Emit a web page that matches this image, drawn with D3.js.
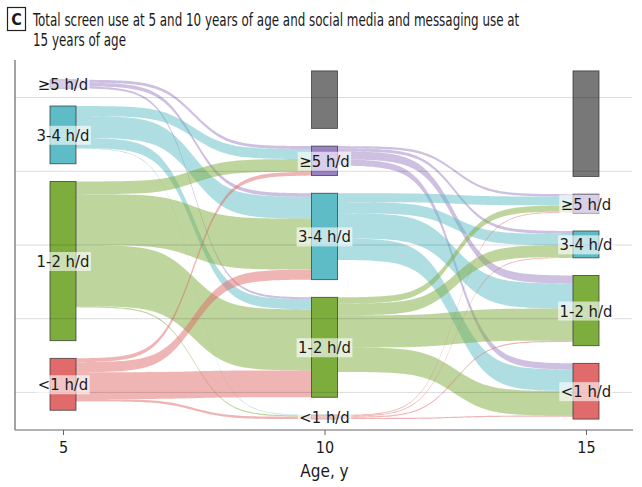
<!DOCTYPE html>
<html>
<head>
<meta charset="utf-8">
<script src="https://cdn.jsdelivr.net/npm/d3@7"></script>
<style>
  body { margin: 0; background: #fff; }
  svg { display: block; }
  text { font-family: "DejaVu Sans Condensed", "Liberation Sans Narrow", sans-serif; fill: #1a1a1a; }
</style>
</head>
<body>
<svg id="chart" width="642" height="487"></svg>
<script>
// screen use at age 5 / 10, social media at 15 -- counts per group
const ages = [5, 10, 15];
const categories = ["Missing", "≥5 h/d", "3-4 h/d", "1-2 h/d", "<1 h/d"];

// rows = group at age 5, cols = group at age 10 (same order as categories)
const flows5to10 = [
  [0, 0, 0, 0, 0],
  [0, 10, 12, 7, 0],
  [52, 34, 74, 34, 2],
  [113, 43, 173, 207, 4],
  [30, 13, 34, 91, 8]
];

// rows = group at age 10, cols = group at age 15
const flows10to15 = [
  [171, 3, 0, 13, 8],
  [34, 8, 10, 27, 21],
  [67, 30, 38, 85, 73],
  [86, 21, 40, 109, 83],
  [0, 3, 3, 4, 4]
];

const gridValues = [-500, -250, 0, 250, 500];

const colors = ["#787878", "#9b82c2", "#5dbcc6", "#7dad3d", "#e06b6a"];

const svg = d3.select("#chart");
const boxW = 26;
const gap = 60; // space between strata, in count units
const smooth = 7;

const x = d3.scaleLinear().domain([5, 15]).range([63, 586]);
const y = d3.scaleLinear().domain([-627.5, 627.5]).range([430, 60]);

// strata sizes for each age
const sizes = [
  flows5to10.map((r) => d3.sum(r)),
  categories.map((_c, j) => d3.sum(flows5to10, (r) => r[j])),
  categories.map((_c, j) => d3.sum(flows10to15, (r) => r[j]))
];

// stack non-empty strata, centred on 0
function layout(sz) {
  const used = sz.map((v, i) => ({ i, v })).filter((d) => d.v > 0);
  const total = d3.sum(used, (d) => d.v) + gap * (used.length - 1);
  let cur = total / 2;
  const out = [];
  used.forEach((d) => {
    out[d.i] = { cat: d.i, size: d.v, top: cur, bottom: cur - d.v };
    cur = cur - d.v - gap;
  });
  return out;
}
const strata = sizes.map(layout);

// flows
function sig(t) {
  const f = (u) => 1 / (1 + Math.exp(-smooth * (2 * u - 1)));
  return (f(t) - f(0)) / (f(1) - f(0));
}
const area = d3.area()
  .x((d) => d.x)
  .y0((d) => d.y0)
  .y1((d) => d.y1);

const order = [1, 2, 3, 4, 0]; // missing goes last
const flowData = [];
[flows5to10, flows10to15].forEach((m, a) => {
  const from = strata[a];
  const to = strata[a + 1];
  const outPos = {};
  const inPos = {};
  from.forEach((s) => {
    if (!s) return;
    let cur = s.top;
    order.forEach((j) => {
      const v = m[s.cat][j];
      if (v > 0) { outPos[s.cat + "-" + j] = [cur, cur - v]; cur -= v; }
    });
  });
  to.forEach((s) => {
    if (!s) return;
    let cur = s.top;
    order.forEach((i) => {
      const v = m[i][s.cat];
      if (v > 0) { inPos[i + "-" + s.cat] = [cur, cur - v]; cur -= v; }
    });
  });
  m.forEach((row, i) => {
    row.forEach((v, j) => {
      if (v <= 0 || i === 0 || j === 0) return;
      const p0 = outPos[i + "-" + j];
      const p1 = inPos[i + "-" + j];
      const x0 = x(ages[a]) + boxW / 2;
      const x1 = x(ages[a + 1]) - boxW / 2;
      const pts = d3.range(81).map((k) => {
        const t = k / 80;
        const s = sig(t);
        return {
          x: x0 + t * (x1 - x0),
          y0: y(p0[0] + s * (p1[0] - p0[0])),
          y1: y(p0[1] + s * (p1[1] - p0[1]))
        };
      });
      flowData.push({ src: i, pts });
    });
  });
});

svg.append("g")
  .selectAll("path")
  .data(flowData)
  .join("path")
  .attr("d", (d) => area(d.pts))
  .attr("fill", (d) => colors[d.src])
  .attr("fill-opacity", 0.5);

// strata boxes
const boxes = [];
strata.forEach((col, a) => col.forEach((s) => { if (s) boxes.push({ a, ...s }); }));

svg.append("g")
  .selectAll("rect")
  .data(boxes)
  .join("rect")
  .attr("x", (d) => x(ages[d.a]) - boxW / 2)
  .attr("y", (d) => y(d.top))
  .attr("width", boxW)
  .attr("height", (d) => y(d.bottom) - y(d.top))
  .attr("fill", (d) => colors[d.cat])
  .attr("stroke", "#333")
  .attr("stroke-opacity", 0.8)
  .attr("stroke-width", 0.9);

// faint grid drawn over flows and boxes
svg.append("g")
  .selectAll("line")
  .data(gridValues)
  .join("line")
  .attr("x1", 15)
  .attr("x2", 632)
  .attr("y1", (d) => y(d))
  .attr("y2", (d) => y(d))
  .attr("stroke", "#000")
  .attr("stroke-opacity", 0.14);

// labels
const labG = svg.append("g");
boxes.filter((d) => d.cat !== 0).forEach((d) => {
  const g = labG.append("g");
  const t = g.append("text")
    .attr("x", x(ages[d.a]))
    .attr("y", y((d.top + d.bottom) / 2))
    .attr("dy", "0.36em")
    .attr("text-anchor", "middle")
    .style("font-size", "16.5px")
    .text(categories[d.cat]);
  const b = t.node().getBBox();
  g.insert("rect", "text")
    .attr("x", b.x - 1.5)
    .attr("y", b.y)
    .attr("width", b.width + 3)
    .attr("height", b.height)
    .attr("fill", "#fff")
    .attr("fill-opacity", 0.62);
});

// axes
svg.append("line")
  .attr("x1", 15).attr("x2", 15)
  .attr("y1", 60).attr("y2", 430)
  .attr("stroke", "#666").attr("stroke-width", 1.2);

const xAxis = svg.append("g")
  .attr("transform", "translate(0,430)")
  .call(d3.axisBottom(x).tickValues(ages).tickSize(5).tickSizeOuter(0));
xAxis.attr("font-family", null);
xAxis.select(".domain").attr("d", "M15,0H633").attr("stroke", "#666").attr("stroke-width", 1.2);
xAxis.selectAll(".tick line").attr("stroke", "#666");
xAxis.selectAll(".tick text")
  .attr("y", 12)
  .style("font-size", "16px")
  .attr("fill", "#1a1a1a");

svg.append("text")
  .attr("x", x(10))
  .attr("y", 477)
  .attr("text-anchor", "middle")
  .style("font-size", "17px")
  .text("Age, y");

// panel title
svg.append("rect")
  .attr("x", 7.5).attr("y", 7.5)
  .attr("width", 18).attr("height", 23)
  .attr("fill", "none")
  .attr("stroke", "#222")
  .attr("stroke-width", 1.2);
svg.append("text")
  .attr("x", 16.5).attr("y", 25)
  .attr("text-anchor", "middle")
  .style("font-size", "16px")
  .style("font-weight", "bold")
  .text("C");

// condensed look: squeeze the title horizontally
const title = svg.append("g")
  .attr("transform", "translate(33,0) scale(0.78,1)")
  .style("font-size", "17px");
title.append("text").attr("x", 0).attr("y", 26)
  .text("Total screen use at 5 and 10 years of age and social media and messaging use at");
title.append("text").attr("x", 0).attr("y", 46)
  .text("15 years of age");
</script>
</body>
</html>
